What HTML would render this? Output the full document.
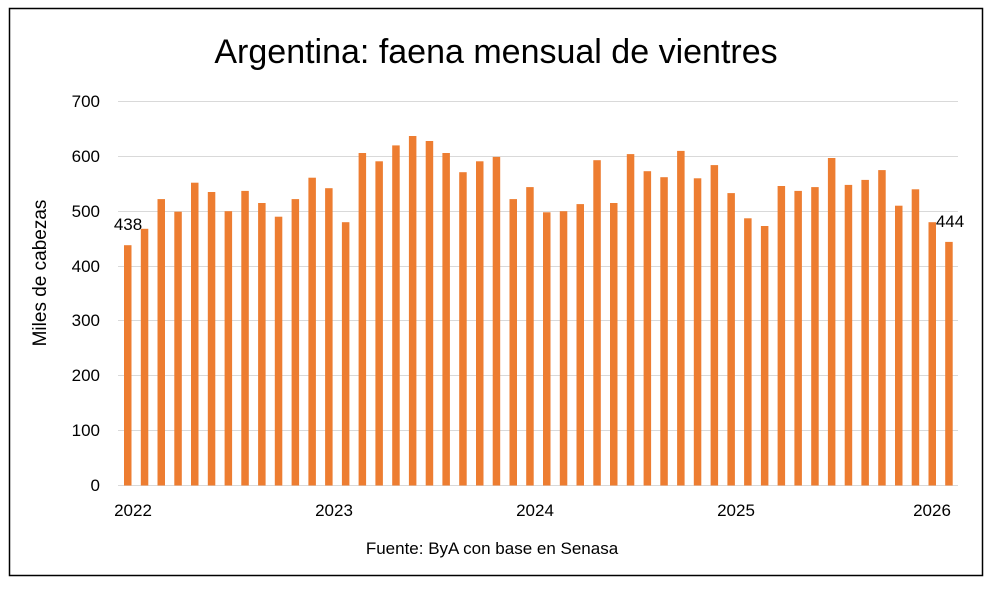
<!DOCTYPE html>
<html><head><meta charset="utf-8"><style>
body{margin:0;background:#fff;width:992px;height:590px;overflow:hidden}
svg{display:block;font-family:"Liberation Sans",Calibri,sans-serif}
</style></head><body>
<svg width="992" height="590" xmlns="http://www.w3.org/2000/svg">
<rect x="0" y="0" width="992" height="590" fill="#fff"/>
<rect x="9.5" y="8.5" width="973" height="567" fill="none" stroke="#000" stroke-width="1.5"/>
<text x="496" y="63" font-size="34" text-anchor="middle" fill="#000">Argentina: faena mensual de vientres</text>
<g stroke="#d9d9d9" stroke-width="1">
<line x1="118" x2="958" y1="101.5" y2="101.5"/>
<line x1="118" x2="958" y1="156.5" y2="156.5"/>
<line x1="118" x2="958" y1="211.5" y2="211.5"/>
<line x1="118" x2="958" y1="266.5" y2="266.5"/>
<line x1="118" x2="958" y1="320.5" y2="320.5"/>
<line x1="118" x2="958" y1="375.5" y2="375.5"/>
<line x1="118" x2="958" y1="430.5" y2="430.5"/>
<line x1="118" x2="958" y1="485.5" y2="485.5"/>
</g>
<g font-size="17" fill="#000" text-anchor="end">
<text x="100" y="107">700</text><text x="100" y="162">600</text><text x="100" y="217">500</text>
<text x="100" y="272">400</text><text x="100" y="326">300</text><text x="100" y="381">200</text>
<text x="100" y="436">100</text><text x="100" y="491">0</text>
</g>
<text transform="translate(46,273) rotate(-90)" font-size="19" text-anchor="middle">Miles de cabezas</text>
<g id="bars" fill="#ed7d31"></g>
<g font-size="17" text-anchor="middle">
<text x="133" y="516">2022</text><text x="334" y="516">2023</text><text x="535" y="516">2024</text>
<text x="736" y="516">2025</text><text x="932" y="516">2026</text>
</g>
<text x="128" y="230" font-size="17" text-anchor="middle">438</text>
<text x="950" y="227" font-size="17" text-anchor="middle">444</text>
<text x="492" y="554" font-size="17" text-anchor="middle">Fuente: ByA con base en Senasa</text>
</svg>
<script>
var v=[438,468,522,499,552,535,500,537,515,490,522,561,542,480,606,591,620,637,628,606,571,591,599,522,544,498,500,513,593,515,604,573,562,610,560,584,533,487,473,546,537,544,597,548,557,575,510,540,480,444];
var g=document.getElementById('bars'),s='';
for(var i=0;i<v.length;i++){var x=124+i*16.76,h=v[i]*0.5486;
s+='<rect x="'+x.toFixed(1)+'" y="'+(485.5-h).toFixed(1)+'" width="7.5" height="'+h.toFixed(1)+'"/>';}
g.innerHTML=s;
</script>
</body></html>
